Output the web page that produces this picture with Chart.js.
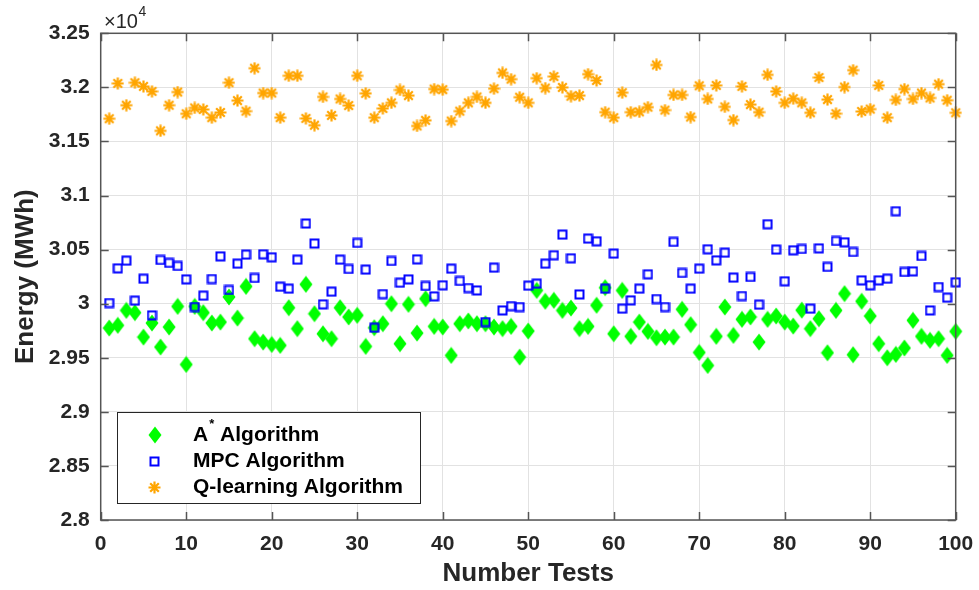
<!DOCTYPE html>
<html><head><meta charset="utf-8">
<script src="https://cdn.jsdelivr.net/npm/chart.js@4.4.1/dist/chart.umd.min.js"></script>
<style>html,body{margin:0;padding:0;background:#fff}canvas{display:block}</style>
</head><body>
<canvas id="c" width="979" height="590"></canvas>
<script>
const tests=[1,2,3,4,5,6,7,8,9,10,11,12,13,14,15,16,17,18,19,20,21,22,23,24,25,26,27,28,29,30,31,32,33,34,35,36,37,38,39,40,41,42,43,44,45,46,47,48,49,50,51,52,53,54,55,56,57,58,59,60,61,62,63,64,65,66,67,68,69,70,71,72,73,74,75,76,77,78,79,80,81,82,83,84,85,86,87,88,89,90,91,92,93,94,95,96,97,98,99,100];
const aStar=[2.9775,2.980,2.9938,2.9917,2.9691,2.9821,2.9599,2.9784,2.9975,2.9438,2.9975,2.9917,2.9821,2.983,3.0062,2.9867,3.016,2.9676,2.9645,2.9623,2.9614,2.9963,2.9769,3.0179,2.9907,2.9722,2.9676,2.9963,2.9877,2.9892,2.9605,2.9778,2.9815,3.000,2.963,2.9994,2.9728,3.0046,2.979,2.9784,2.9522,2.9815,2.984,2.9815,2.9815,2.9784,2.9769,2.979,2.9506,2.9747,3.0123,3.0022,3.0031,2.9938,2.996,2.9769,2.979,2.9985,3.0148,2.9722,3.0123,2.9698,2.983,2.9744,2.9685,2.9691,2.9691,2.9948,2.9806,2.9549,2.9429,2.9698,2.9969,2.9707,2.9855,2.9877,2.9645,2.9855,2.9886,2.983,2.9793,2.994,2.9769,2.9861,2.9546,2.9938,3.0093,2.9528,3.0022,2.9886,2.963,2.950,2.9531,2.959,2.9846,2.9698,2.9661,2.9676,2.9522,2.9744];
const mpc=[3.0006,3.0327,3.0398,3.0028,3.0231,2.9892,3.0404,3.0377,3.0349,3.0225,2.9969,3.0074,3.0228,3.0438,3.0127,3.037,3.0454,3.0238,3.0457,3.0429,3.0157,3.0139,3.0407,3.0741,3.0556,2.9994,3.0111,3.0407,3.0321,3.0562,3.0315,2.9778,3.0089,3.0395,3.0194,3.0225,3.041,3.0164,3.0068,3.017,3.0324,3.021,3.0145,3.0123,2.983,3.0333,2.9938,2.9978,2.9969,3.0167,3.0185,3.037,3.0448,3.0639,3.042,3.0086,3.0602,3.0577,3.0139,3.0463,2.9954,3.0031,3.0139,3.0272,3.0043,2.9969,3.0571,3.0284,3.0139,3.0324,3.0503,3.0401,3.0472,3.0241,3.0071,3.0247,2.9991,3.0735,3.05,3.0207,3.0494,3.0506,2.9954,3.0512,3.034,3.058,3.0568,3.0478,3.0216,3.017,3.0216,3.0231,3.0855,3.0293,3.0299,3.0441,2.9938,3.0154,3.0056,3.0198];
const qLearning=[3.171,3.2037,3.1835,3.2043,3.2009,3.1963,3.1598,3.1835,3.1957,3.1756,3.181,3.1796,3.172,3.1768,3.2043,3.1878,3.178,3.2177,3.1948,3.1948,3.172,3.2107,3.2107,3.1713,3.165,3.1912,3.1741,3.1893,3.1832,3.2107,3.1945,3.172,3.1805,3.1857,3.1976,3.1924,3.1643,3.1695,3.1985,3.1979,3.1689,3.178,3.1857,3.1912,3.1857,3.1988,3.2134,3.2076,3.1909,3.1857,3.2085,3.1994,3.21,3.2,3.1918,3.1924,3.2122,3.2064,3.1771,3.172,3.1951,3.1771,3.1774,3.1817,3.2207,3.179,3.193,3.193,3.1726,3.2015,3.1893,3.2018,3.182,3.1698,3.2009,3.1841,3.1771,3.2116,3.1963,3.1857,3.1896,3.1857,3.1765,3.2091,3.1887,3.1757,3.2003,3.2159,3.1777,3.1799,3.2018,3.172,3.1884,3.1985,3.1893,3.1948,3.1902,3.203,3.1881,3.1765];
const xTicks=[0,10,20,30,40,50,60,70,80,90,100];
const yTicks=[2.8,2.85,2.9,2.95,3.0,3.05,3.1,3.15,3.2,3.25];
const seriesNames=['A* Algorithm','MPC Algorithm','Q-learning Algorithm'];
const xTitle='Number Tests';
const yTitle='Energy (MWh)';
const exponentText='×10';
const exponentPower='4';

const FONT="'Liberation Sans', Arial, Helvetica, sans-serif";
const TXT='#262626';

function makeDiamond(){const c=document.createElement('canvas');c.width=14;c.height=18;const g=c.getContext('2d');
  g.fillStyle='#00ff00';g.beginPath();g.moveTo(7,0.5);g.lineTo(13.5,9);g.lineTo(7,17.5);g.lineTo(0.5,9);g.closePath();g.fill();return c;}
function makeSquare(){const c=document.createElement('canvas');c.width=11;c.height=11;const g=c.getContext('2d');
  g.strokeStyle='#0000ff';g.lineWidth=2;g.strokeRect(1.5,1.5,8,8);return c;}
function makeStar(){const c=document.createElement('canvas');c.width=13;c.height=13;const g=c.getContext('2d');
  g.strokeStyle='#ffa500';g.lineWidth=2.2;g.lineCap='butt';g.beginPath();
  g.moveTo(6.5,0.5);g.lineTo(6.5,12.5);g.moveTo(0.5,6.5);g.lineTo(12.5,6.5);
  g.moveTo(2.2,2.2);g.lineTo(10.8,10.8);g.moveTo(10.8,2.2);g.lineTo(2.2,10.8);g.stroke();return c;}
const markers=[makeDiamond(),makeSquare(),makeStar()];

function pts(arr){return arr.map((v,i)=>({x:tests[i],y:v}));}

const boxPlugin={id:'mbox',afterDraw(chart){
  const ctx=chart.ctx,a=chart.chartArea,xs=chart.scales.x,ys=chart.scales.y;
  ctx.save();
  ctx.strokeStyle='#555';ctx.lineWidth=1.5;
  ctx.strokeRect(a.left,a.top,a.right-a.left,a.bottom-a.top);
  ctx.beginPath();
  const tl=8;
  xTicks.forEach(v=>{const x=Math.round(xs.getPixelForValue(v))+0.5;
    ctx.moveTo(x,a.bottom);ctx.lineTo(x,a.bottom-tl);ctx.moveTo(x,a.top);ctx.lineTo(x,a.top+tl);});
  yTicks.forEach(v=>{const y=Math.round(ys.getPixelForValue(v))+0.5;
    ctx.moveTo(a.left,y);ctx.lineTo(a.left+tl,y);ctx.moveTo(a.right,y);ctx.lineTo(a.right-tl,y);});
  ctx.stroke();
  // exponent label
  ctx.fillStyle=TXT;ctx.textBaseline='alphabetic';ctx.textAlign='left';
  ctx.font='20px '+FONT;ctx.fillText(exponentText,104,27.5);
  const w=ctx.measureText(exponentText).width;
  ctx.font='14px '+FONT;ctx.fillText(exponentPower,104+w+0.5,16);
  // legend
  const L=117,T=412,W=303,H=91;
  ctx.fillStyle='#fff';ctx.fillRect(L,T,W,H);
  ctx.strokeStyle='#262626';ctx.lineWidth=1;ctx.strokeRect(L+0.5,T+0.5,W,H);
  const rows=[435,461.5,487.5];
  chart.data.datasets.forEach((ds,i)=>{
    const m=markers[i],y=rows[i];
    ctx.drawImage(m,Math.round(154.5-m.width/2),Math.round(y-m.height/2));
    ctx.fillStyle='#000';ctx.textBaseline='middle';
    ctx.font='bold 21px '+FONT;
    let x=193;
    const label=ds.label;
    if(label.indexOf('A*')===0){
      ctx.fillText('A',x,y);x+=ctx.measureText('A').width+1;
      ctx.font='bold 13px '+FONT;ctx.fillText('*',x,y-11);x+=ctx.measureText('*').width;
      ctx.font='bold 21px '+FONT;ctx.fillText(label.slice(2),x,y);
    } else ctx.fillText(label,x,y);
  });
  ctx.restore();
}};

new Chart(document.getElementById('c'),{
  type:'scatter',
  data:{datasets:[
    {label:seriesNames[0],data:pts(aStar),pointStyle:markers[0],order:2,clip:false},
    {label:seriesNames[1],data:pts(mpc),pointStyle:markers[1],order:1,clip:false},
    {label:seriesNames[2],data:pts(qLearning),pointStyle:markers[2],order:0,clip:false}
  ]},
  options:{
    responsive:false,animation:false,devicePixelRatio:1,
    layout:{padding:{left:0,right:23.3,top:33.3,bottom:0}},
    plugins:{legend:{display:false},tooltip:{enabled:false}},
    scales:{
      x:{type:'linear',min:0,max:100,
        afterBuildTicks:s=>{s.ticks=xTicks.map(v=>({value:v}));},
        afterFit:s=>{s.height=70;s.paddingLeft=0;s.paddingRight=0;},
        grid:{color:'#e2e2e2',lineWidth:1,drawTicks:false},
        border:{display:false},
        ticks:{padding:12,color:TXT,maxRotation:0,autoSkip:false,font:{family:FONT,size:21,weight:'bold'},callback:v=>String(v)},
        title:{display:true,text:xTitle,color:TXT,font:{family:FONT,size:26,weight:'bold',lineHeight:1.2},padding:{top:0,bottom:1}}
      },
      y:{type:'linear',min:2.8,max:3.25,
        afterBuildTicks:s=>{s.ticks=yTicks.map(v=>({value:v}));},
        afterFit:s=>{s.width=100.7;s.paddingTop=0;s.paddingBottom=0;},
        grid:{color:'#e2e2e2',lineWidth:1,drawTicks:false},
        border:{display:false},
        ticks:{padding:11,color:TXT,autoSkip:false,font:{family:FONT,size:21,weight:'bold'},callback:v=>String(+Number(v).toFixed(2))},
        title:{display:true,text:yTitle,color:TXT,font:{family:FONT,size:26,weight:'bold',lineHeight:1.2},padding:{top:10,bottom:0}}
      }
    }
  },
  plugins:[boxPlugin]
});
</script>
</body></html>
